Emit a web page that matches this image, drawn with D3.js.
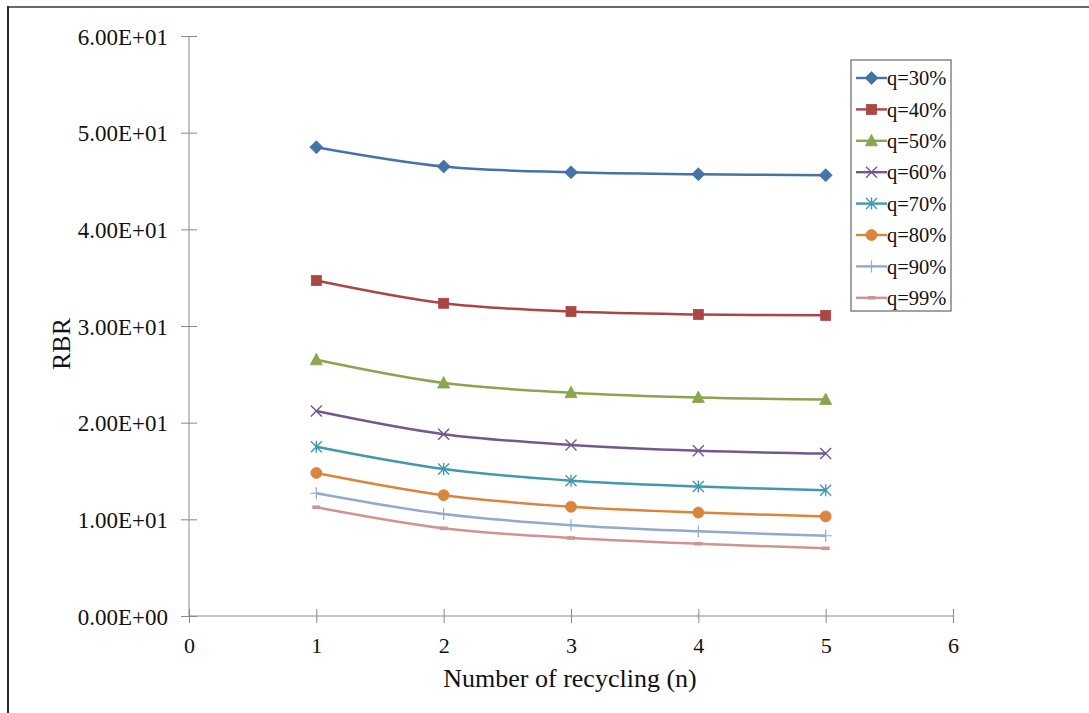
<!DOCTYPE html>
<html>
<head>
<meta charset="utf-8">
<script src="https://cdn.jsdelivr.net/npm/d3@7"></script>
<style>
  html, body { margin: 0; padding: 0; background: #fff; }
  svg { display: block; }
  text { font-family: "Liberation Serif", "Times New Roman", serif; fill: #111; }
</style>
</head>
<body>
<svg id="chart" width="1089" height="713"></svg>
<script>
const nValues = [1, 2, 3, 4, 5];
const seriesNames = ["q=30%", "q=40%", "q=50%", "q=60%", "q=70%", "q=80%", "q=90%", "q=99%"];
const q30 = [48.5, 46.5, 45.9, 45.7, 45.6];
const q40 = [34.7, 32.35, 31.5, 31.2, 31.1];
const q50 = [26.5, 24.1, 23.1, 22.6, 22.4];
const q60 = [21.2, 18.8, 17.7, 17.1, 16.8];
const q70 = [17.5, 15.2, 14.0, 13.4, 13.0];
const q80 = [14.8, 12.5, 11.3, 10.7, 10.3];
const q90 = [12.7, 10.55, 9.4, 8.76, 8.3];
const q99 = [11.25, 9.07, 8.07, 7.48, 7.0];
const yTicks = [0, 10, 20, 30, 40, 50, 60];
const xTicks = [0, 1, 2, 3, 4, 5, 6];

const allSeries = [q30, q40, q50, q60, q70, q80, q90, q99];
const colors = ["#4572A7", "#AA4643", "#89A54E", "#71588F", "#4198AF", "#DB843D", "#93A9CF", "#D19392"];
const markers = ["diamond", "square", "triangle", "x", "asterisk", "circle", "plus", "dash"];

const svg = d3.select("#chart");

// outer frame
svg.append("line").attr("x1", 8).attr("x2", 1089).attr("y1", 7).attr("y2", 7)
  .attr("stroke", "#6a6a6a").attr("stroke-width", 2);
svg.append("line").attr("x1", 8).attr("x2", 8).attr("y1", 6).attr("y2", 713)
  .attr("stroke", "#2a2a2a").attr("stroke-width", 2);

const x = d3.scaleLinear().domain([0, 6]).range([189, 953]);
const y = d3.scaleLinear().domain([0, 60]).range([616, 36]);

const axisColor = "#8a8a8a";

// y axis
const yAxis = svg.append("g").attr("transform", `translate(${x(0)},0)`)
  .call(d3.axisLeft(y).tickValues(yTicks).tickSize(8).tickPadding(13)
    .tickFormat(d => d.toExponential(2).replace("e+", "E+0").replace("e-", "E-0")));
yAxis.selectAll(".tick line").attr("x2", 8).attr("x1", -8).attr("stroke", axisColor);
yAxis.select(".domain").attr("stroke", axisColor).attr("d", `M0,${y(60)}V${y(0)}`);
yAxis.selectAll(".tick text").attr("font-size", 23).attr("font-family", "Liberation Serif").attr("fill", "#111").attr("dy", "0.35em");

// x axis
const xAxis = svg.append("g").attr("transform", `translate(0,${y(0)})`)
  .call(d3.axisBottom(x).tickValues(xTicks).tickSize(7).tickPadding(14).tickFormat(d3.format("d")));
xAxis.selectAll(".tick line").attr("y1", -7).attr("y2", 7).attr("stroke", axisColor);
xAxis.select(".domain").attr("stroke", axisColor).attr("d", `M${x(0)},0H${x(6)}`);
xAxis.selectAll(".tick text").attr("font-size", 22).attr("font-family", "Liberation Serif").attr("fill", "#111");

// axis titles
svg.append("text").attr("x", 570).attr("y", 687).attr("text-anchor", "middle")
  .attr("font-size", 26).text("Number of recycling (n)");
svg.append("text").attr("transform", `translate(70,344) rotate(-90)`).attr("text-anchor", "middle")
  .attr("font-size", 26).text("RBR");

// marker drawing
function drawMarker(g, type, cx, cy, color) {
  const s = g.append("g").attr("transform", `translate(${cx},${cy})`);
  switch (type) {
    case "diamond":
      s.append("path").attr("d", "M0,-6.5L6.5,0L0,6.5L-6.5,0Z").attr("fill", color).attr("stroke", color).attr("stroke-width", 0.8);
      break;
    case "square":
      s.append("rect").attr("x", -5).attr("y", -5).attr("width", 10).attr("height", 10).attr("fill", color).attr("stroke", color).attr("stroke-width", 0.8);
      break;
    case "triangle":
      s.append("path").attr("d", "M0,-6.5L6,5L-6,5Z").attr("fill", color).attr("stroke", color).attr("stroke-width", 0.8);
      break;
    case "x":
      s.append("path").attr("d", "M-5.5,-5.5L5.5,5.5M-5.5,5.5L5.5,-5.5").attr("stroke", color).attr("stroke-width", 1.4).attr("fill", "none");
      break;
    case "asterisk":
      s.append("path").attr("d", "M-5.5,-5.5L5.5,5.5M-5.5,5.5L5.5,-5.5M0,-6L0,6").attr("stroke", color).attr("stroke-width", 1.4).attr("fill", "none");
      break;
    case "circle":
      s.append("circle").attr("r", 5.5).attr("fill", color).attr("stroke", color).attr("stroke-width", 0.8);
      break;
    case "plus":
      s.append("path").attr("d", "M-6,0L6,0M0,-6L0,6").attr("stroke", color).attr("stroke-width", 1.2).attr("fill", "none");
      break;
    case "dash":
      s.append("rect").attr("x", -4).attr("y", -1.8).attr("width", 8).attr("height", 3.6).attr("fill", color);
      break;
  }
}

const line = d3.line().x(d => x(d[0])).y(d => y(d[1])).curve(d3.curveCatmullRom.alpha(0.5));

const plot = svg.append("g");
allSeries.forEach((vals, i) => {
  const pts = nValues.map((n, j) => [n, vals[j]]);
  plot.append("path").datum(pts).attr("d", line).attr("fill", "none")
    .attr("stroke", colors[i]).attr("stroke-width", 2.5);
});
allSeries.forEach((vals, i) => {
  nValues.forEach((n, j) => drawMarker(plot, markers[i], x(n), y(vals[j]), colors[i]));
});

// legend
const lg = svg.append("g");
lg.append("rect").attr("x", 851).attr("y", 60).attr("width", 100).attr("height", 251)
  .attr("fill", "#fff").attr("stroke", "#666").attr("stroke-width", 1.2);
seriesNames.forEach((name, i) => {
  const cy = 78 + i * 31.4;
  lg.append("line").attr("x1", 856).attr("x2", 887).attr("y1", cy).attr("y2", cy)
    .attr("stroke", colors[i]).attr("stroke-width", 2.4);
  drawMarker(lg, markers[i], 871.5, cy, colors[i]);
  lg.append("text").attr("x", 887).attr("y", cy).attr("dy", "0.35em").attr("font-size", 20.5).text(name);
});
</script>
</body>
</html>
